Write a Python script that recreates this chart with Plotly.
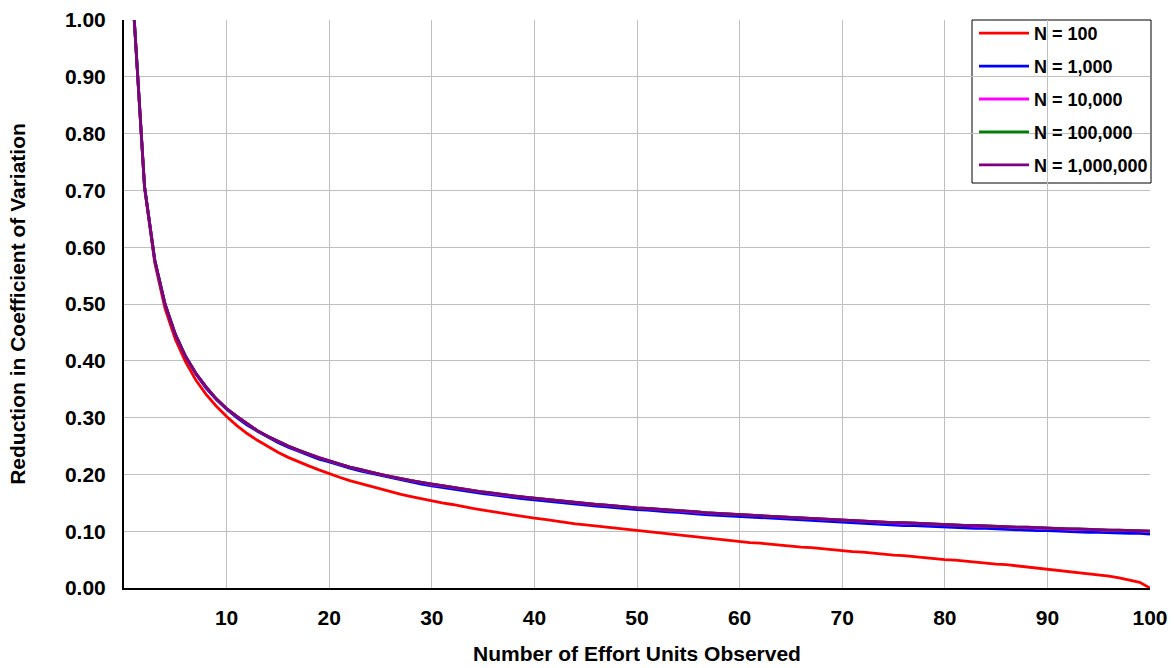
import plotly.graph_objects as go

n_units = list(range(1, 101))

cv_n100 = [1.000, 0.704, 0.572, 0.492, 0.438, 0.398, 0.366, 0.341, 0.320, 0.302,
           0.286, 0.272, 0.260, 0.249, 0.239, 0.230, 0.222, 0.215, 0.208, 0.201,
           0.195, 0.189, 0.184, 0.179, 0.174, 0.170, 0.165, 0.161, 0.157, 0.154,
           0.150, 0.147, 0.143, 0.140, 0.137, 0.134, 0.131, 0.128, 0.126, 0.123,
           0.121, 0.118, 0.116, 0.113, 0.111, 0.109, 0.107, 0.105, 0.103, 0.101,
           0.099, 0.097, 0.095, 0.093, 0.091, 0.089, 0.087, 0.086, 0.084, 0.082,
           0.080, 0.079, 0.077, 0.075, 0.074, 0.072, 0.071, 0.069, 0.067, 0.066,
           0.064, 0.063, 0.061, 0.060, 0.058, 0.057, 0.055, 0.053, 0.052, 0.050,
           0.049, 0.047, 0.046, 0.044, 0.042, 0.041, 0.039, 0.037, 0.035, 0.034,
           0.032, 0.030, 0.028, 0.025, 0.023, 0.021, 0.018, 0.014, 0.010, 0.000]

cv_n1000 = [1.000, 0.707, 0.577, 0.499, 0.446, 0.407, 0.377, 0.352, 0.332, 0.315,
            0.300, 0.287, 0.276, 0.266, 0.256, 0.248, 0.241, 0.234, 0.227, 0.222,
            0.216, 0.211, 0.206, 0.202, 0.198, 0.194, 0.190, 0.186, 0.183, 0.180,
            0.177, 0.174, 0.171, 0.169, 0.166, 0.164, 0.161, 0.159, 0.157, 0.155,
            0.153, 0.151, 0.149, 0.148, 0.146, 0.144, 0.143, 0.141, 0.140, 0.138,
            0.137, 0.135, 0.134, 0.133, 0.131, 0.130, 0.129, 0.128, 0.126, 0.125,
            0.124, 0.123, 0.122, 0.121, 0.120, 0.119, 0.118, 0.117, 0.116, 0.115,
            0.115, 0.114, 0.113, 0.112, 0.111, 0.110, 0.110, 0.109, 0.108, 0.107,
            0.107, 0.106, 0.105, 0.105, 0.104, 0.103, 0.103, 0.102, 0.101, 0.101,
            0.100, 0.100, 0.099, 0.098, 0.098, 0.097, 0.097, 0.096, 0.096, 0.095]

cv_n10000 = [1.000, 0.707, 0.577, 0.500, 0.447, 0.408, 0.378, 0.354, 0.333, 0.316,
             0.302, 0.289, 0.277, 0.267, 0.258, 0.250, 0.242, 0.236, 0.229, 0.224,
             0.218, 0.213, 0.208, 0.204, 0.200, 0.196, 0.192, 0.189, 0.186, 0.182,
             0.180, 0.177, 0.174, 0.171, 0.169, 0.166, 0.164, 0.162, 0.160, 0.158,
             0.156, 0.154, 0.152, 0.150, 0.149, 0.147, 0.146, 0.144, 0.142, 0.141,
             0.140, 0.138, 0.137, 0.136, 0.134, 0.133, 0.132, 0.131, 0.130, 0.129,
             0.128, 0.127, 0.126, 0.125, 0.124, 0.123, 0.122, 0.121, 0.120, 0.119,
             0.118, 0.117, 0.117, 0.116, 0.115, 0.114, 0.114, 0.113, 0.112, 0.111,
             0.111, 0.110, 0.109, 0.109, 0.108, 0.107, 0.107, 0.106, 0.106, 0.105,
             0.104, 0.104, 0.103, 0.103, 0.102, 0.102, 0.101, 0.101, 0.100, 0.100]

cv_n100000 = [1.000, 0.707, 0.577, 0.500, 0.447, 0.408, 0.378, 0.354, 0.333, 0.316,
              0.302, 0.289, 0.277, 0.267, 0.258, 0.250, 0.243, 0.236, 0.229, 0.224,
              0.218, 0.213, 0.209, 0.204, 0.200, 0.196, 0.192, 0.189, 0.186, 0.183,
              0.180, 0.177, 0.174, 0.171, 0.169, 0.167, 0.164, 0.162, 0.160, 0.158,
              0.156, 0.154, 0.152, 0.151, 0.149, 0.147, 0.146, 0.144, 0.143, 0.141,
              0.140, 0.139, 0.137, 0.136, 0.135, 0.134, 0.132, 0.131, 0.130, 0.129,
              0.128, 0.127, 0.126, 0.125, 0.124, 0.123, 0.122, 0.121, 0.120, 0.120,
              0.119, 0.118, 0.117, 0.116, 0.115, 0.115, 0.114, 0.113, 0.113, 0.112,
              0.111, 0.110, 0.110, 0.109, 0.108, 0.108, 0.107, 0.107, 0.106, 0.105,
              0.105, 0.104, 0.104, 0.103, 0.103, 0.102, 0.102, 0.101, 0.101, 0.100]

cv_n1000000 = [1.000, 0.707, 0.577, 0.500, 0.447, 0.408, 0.378, 0.354, 0.333, 0.316,
               0.302, 0.289, 0.277, 0.267, 0.258, 0.250, 0.243, 0.236, 0.229, 0.224,
               0.218, 0.213, 0.209, 0.204, 0.200, 0.196, 0.192, 0.189, 0.186, 0.183,
               0.180, 0.177, 0.174, 0.171, 0.169, 0.167, 0.164, 0.162, 0.160, 0.158,
               0.156, 0.154, 0.152, 0.151, 0.149, 0.147, 0.146, 0.144, 0.143, 0.141,
               0.140, 0.139, 0.137, 0.136, 0.135, 0.134, 0.132, 0.131, 0.130, 0.129,
               0.128, 0.127, 0.126, 0.125, 0.124, 0.123, 0.122, 0.121, 0.120, 0.120,
               0.119, 0.118, 0.117, 0.116, 0.115, 0.115, 0.114, 0.113, 0.113, 0.112,
               0.111, 0.110, 0.110, 0.109, 0.108, 0.108, 0.107, 0.107, 0.106, 0.105,
               0.105, 0.104, 0.104, 0.103, 0.103, 0.102, 0.102, 0.101, 0.101, 0.100]

series_names = ["N = 100", "N = 1,000", "N = 10,000", "N = 100,000", "N = 1,000,000"]
series_values = [cv_n100, cv_n1000, cv_n10000, cv_n100000, cv_n1000000]
series_colors = ["#ff0000", "#0000ff", "#ff00ff", "#008000", "#800080"]

x_ticks = [10, 20, 30, 40, 50, 60, 70, 80, 90, 100]
y_ticks = [0.0, 0.1, 0.2, 0.3, 0.4, 0.5, 0.6, 0.7, 0.8, 0.9, 1.0]

FONT = "Liberation Sans, Arial, sans-serif"
TICK_SIZE = 21
TITLE_SIZE = 21
LEGEND_SIZE = 18

fig = go.Figure()
for i, (name, vals, col) in enumerate(zip(series_names, series_values, series_colors)):
    fig.add_trace(go.Scatter(
        x=n_units, y=vals, mode="lines", name=name,
        line=dict(color=col, width=2.8),
        legendgroup=f"g{i}",
    ))

# legend frame (plot area is 1026 x 568 px)
fig.add_shape(
    type="rect", xref="paper", yref="paper",
    x0=1 - 178 / 1026, x1=1 + 1 / 1026, y0=1 - 163 / 568, y1=1.0,
    line=dict(color="black", width=1), fillcolor="white", layer="between",
)

fig.update_layout(
    width=1174, height=668,
    margin=dict(l=124, r=24, t=20, b=80),
    paper_bgcolor="white", plot_bgcolor="white",
    font=dict(family=FONT, size=13, color="black"),
    showlegend=True,
    legend=dict(
        x=1.0 + 3 / 1026, y=1.0 + 5 / 568, xanchor="right", yanchor="top",
        borderwidth=0, bgcolor="rgba(0,0,0,0)",
        font=dict(family=FONT, size=LEGEND_SIZE, color="black", weight="bold"),
        tracegroupgap=6.5, itemwidth=50,
    ),
    xaxis=dict(
        range=[0, 100], tickvals=x_ticks, ticktext=[f"<b>{t}</b>" for t in x_ticks],
        showgrid=True, gridcolor="#c0c0c0", gridwidth=1,
        showline=True, linecolor="black", linewidth=2,
        ticks="", ticklabelstandoff=10, zeroline=False, automargin=False,
        tickfont=dict(family=FONT, size=TICK_SIZE, color="black"),
        title=dict(text="<b>Number of Effort Units Observed</b>", standoff=18,
                   font=dict(family=FONT, size=TITLE_SIZE, color="black")),
    ),
    yaxis=dict(
        range=[0, 1], tickvals=y_ticks,
        ticktext=[f"<b>{t:.2f}</b>" for t in y_ticks],
        showgrid=True, gridcolor="#c0c0c0", gridwidth=1,
        showline=True, linecolor="black", linewidth=2,
        ticks="", ticklabelstandoff=12, zeroline=False, automargin=False,
        tickfont=dict(family=FONT, size=TICK_SIZE, color="black"),
        title=dict(text="<b>Reduction in Coefficient of Variation</b>", standoff=34,
                   font=dict(family=FONT, size=TITLE_SIZE, color="black")),
    ),
)

fig.write_html("out.html")
